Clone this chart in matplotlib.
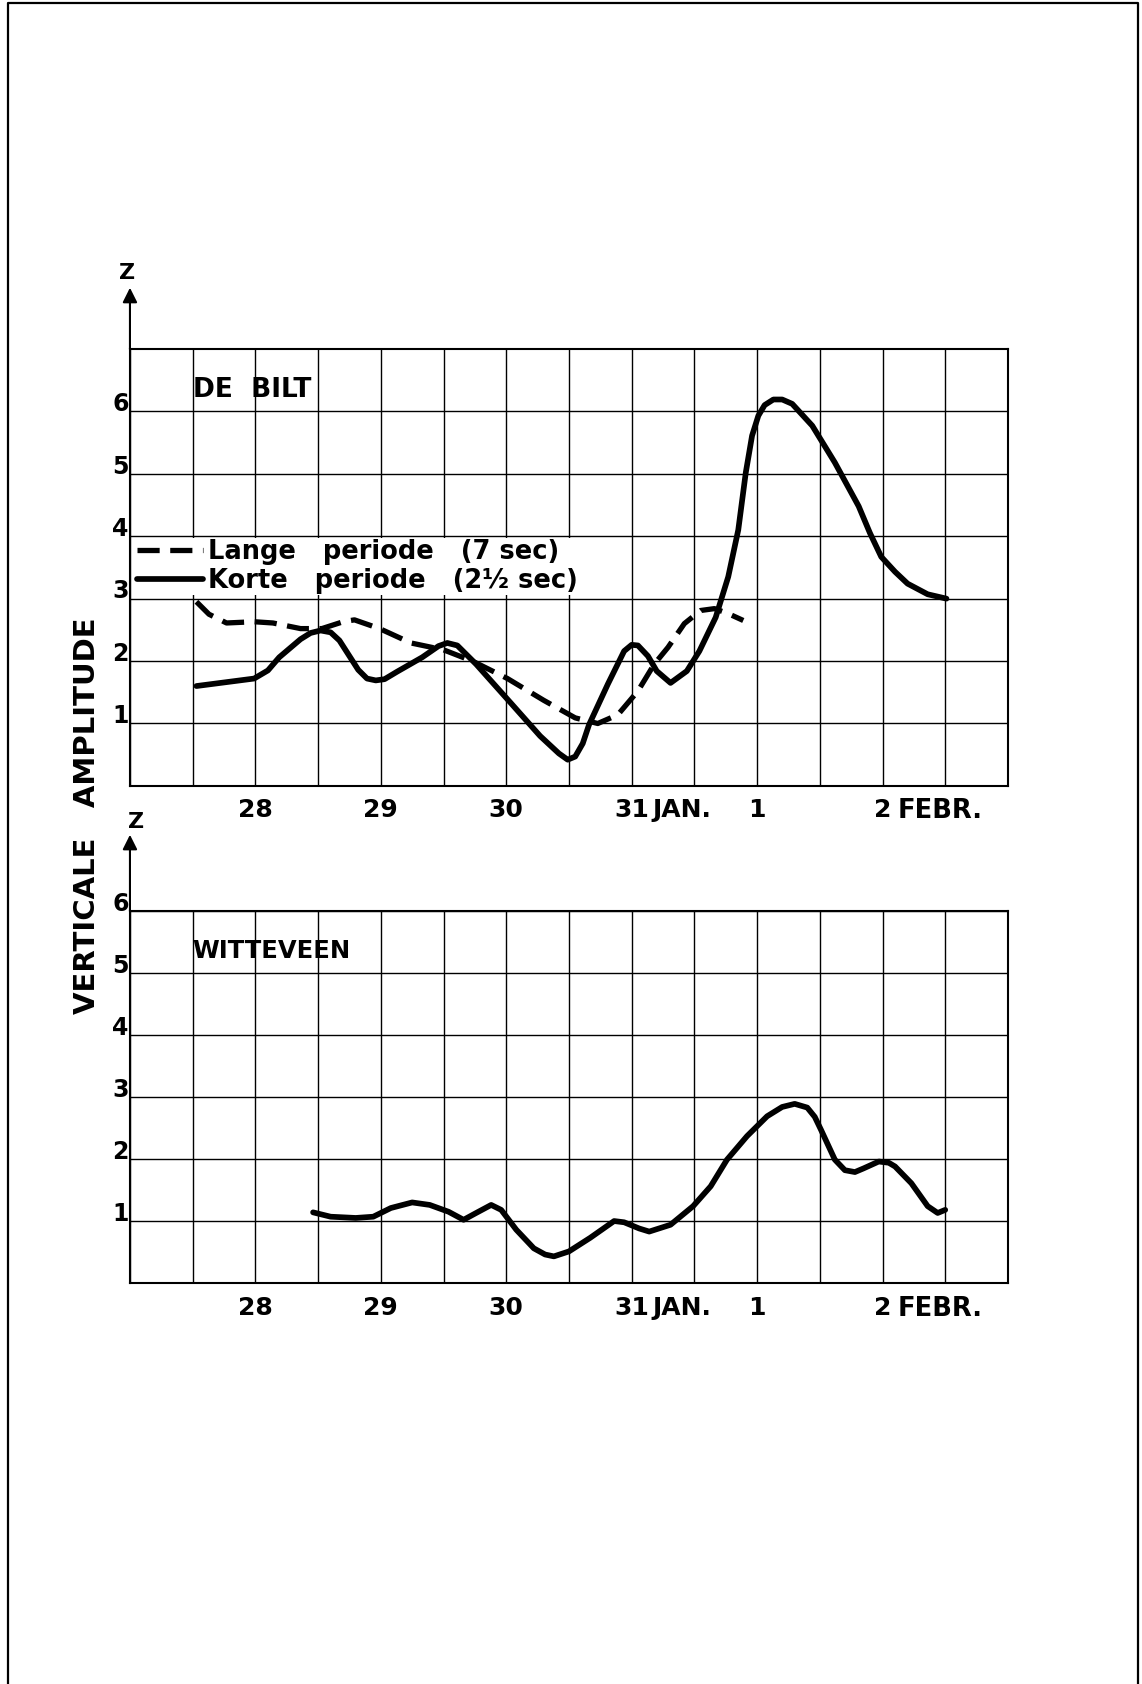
import numpy as np
import matplotlib.pyplot as plt
import matplotlib.transforms as mtransforms
from matplotlib.lines import Line2D

# day axis: 28..31 = January, 32 = 1 Feb, 33 = 2 Feb
day_ticks = [28, 29, 30, 31, 32, 33]
day_labels = ['28', '29', '30', '31', '1', '2']

# De Bilt, long period (7 sec)
lange_x = [27.53, 27.63, 27.77, 27.99, 28.14, 28.36, 28.53, 28.70, 28.79, 28.99, 29.24,
           29.50, 29.73, 30.01, 30.30, 30.55, 30.73, 30.89, 31.05, 31.18, 31.29, 31.42,
           31.55, 31.66, 31.77, 31.89]
lange_y = [2.95, 2.75, 2.61, 2.63, 2.61, 2.52, 2.52, 2.63, 2.66, 2.52, 2.29,
           2.18, 2.00, 1.72, 1.37, 1.09, 1.00, 1.14, 1.52, 1.95, 2.22, 2.60,
           2.81, 2.84, 2.76, 2.65]

# De Bilt, short period (2.5 sec)
korte_x = [27.53, 27.99, 28.10, 28.19, 28.36, 28.44, 28.52, 28.60, 28.67, 28.82, 28.89,
           28.96, 29.03, 29.13, 29.33, 29.46, 29.53, 29.61, 29.76, 30.04, 30.27, 30.42,
           30.49, 30.55, 30.61, 30.66, 30.81, 30.94, 31.00, 31.05, 31.13, 31.20, 31.31,
           31.44, 31.54, 31.67, 31.77, 31.85, 31.91, 31.96, 32.01, 32.06, 32.13, 32.20,
           32.28, 32.44, 32.62, 32.81, 32.90, 32.99, 33.10, 33.20, 33.36, 33.51]
korte_y = [1.60, 1.72, 1.85, 2.06, 2.35, 2.45, 2.49, 2.46, 2.33, 1.86, 1.72,
           1.69, 1.71, 1.83, 2.06, 2.24, 2.29, 2.25, 1.95, 1.32, 0.80, 0.52,
           0.42, 0.47, 0.68, 0.98, 1.63, 2.16, 2.26, 2.25, 2.08, 1.84, 1.65,
           1.84, 2.16, 2.70, 3.35, 4.10, 5.02, 5.61, 5.93, 6.10, 6.19, 6.19,
           6.12, 5.77, 5.18, 4.48, 4.05, 3.67, 3.43, 3.24, 3.07, 3.00]

# Witteveen
witt_x = [28.46, 28.60, 28.80, 28.94, 29.08, 29.25, 29.39, 29.54, 29.66, 29.76, 29.88,
          29.96, 30.08, 30.22, 30.31, 30.38, 30.50, 30.67, 30.86, 30.94, 31.06, 31.14,
          31.31, 31.49, 31.63, 31.76, 31.92, 32.08, 32.20, 32.30, 32.40, 32.46, 32.51,
          32.62, 32.70, 32.78, 32.85, 32.97, 33.05, 33.10, 33.23, 33.36, 33.44, 33.50]
witt_y = [1.14, 1.07, 1.05, 1.07, 1.21, 1.30, 1.26, 1.15, 1.02, 1.13, 1.26,
          1.18, 0.86, 0.56, 0.46, 0.43, 0.51, 0.73, 1.00, 0.98, 0.88, 0.83,
          0.94, 1.24, 1.56, 1.99, 2.37, 2.69, 2.84, 2.89, 2.83, 2.68, 2.47,
          1.99, 1.82, 1.79, 1.85, 1.96, 1.94, 1.88, 1.61, 1.24, 1.13, 1.18]

plt.rcParams['font.family'] = 'DejaVu Sans'
plt.rcParams['font.weight'] = 'bold'

fig = plt.figure(figsize=(11.42, 16.84), dpi=100)
ax1 = fig.add_axes([0.1138, 0.5333, 0.7688, 0.2595])
ax2 = fig.add_axes([0.1138, 0.2381, 0.7688, 0.2209])

lw_curve = 3.8


def style_axes(ax, ymax):
    ax.set_xlim(27, 34)
    ax.set_ylim(0, ymax)
    ax.set_xticks(day_ticks)
    ax.set_xticklabels(day_labels)
    ax.set_xticks(np.arange(27, 34.01, 0.5), minor=True)
    ax.set_yticks(range(1, 7))
    ax.set_yticklabels([str(i) for i in range(1, 7)])
    ax.grid(which='both', axis='x', color='black', linewidth=1.0)
    ax.grid(which='major', axis='y', color='black', linewidth=1.0)
    ax.set_axisbelow(True)
    ax.tick_params(which='both', length=0)
    ax.tick_params(axis='x', pad=9, labelsize=18)
    ax.tick_params(axis='y', pad=1, labelsize=17)
    for s in ax.spines.values():
        s.set_linewidth(1.5)
    # y labels sit a little above their grid line
    off = mtransforms.ScaledTranslation(0, 7 / 72, fig.dpi_scale_trans)
    for t in ax.get_yticklabels():
        t.set_transform(t.get_transform() + off)
    # month names after the day numbers
    ax.annotate('JAN.', xy=(31, 0), xycoords=('data', 'axes fraction'),
                xytext=(15, -9), textcoords='offset points',
                ha='left', va='top', fontsize=18, fontweight='bold')
    ax.annotate('FEBR.', xy=(33, 0), xycoords=('data', 'axes fraction'),
                xytext=(11, -9), textcoords='offset points',
                ha='left', va='top', fontsize=18.5, fontweight='bold')


style_axes(ax1, 7)
style_axes(ax2, 6)

# vertical Z arrows
ax1.annotate('', xy=(0, 1.14), xytext=(0, 1.0), xycoords='axes fraction',
             arrowprops=dict(arrowstyle='-|>', color='black', lw=1.5,
                             mutation_scale=22, shrinkA=0, shrinkB=0),
             annotation_clip=False)
ax1.text(-0.003, 1.174, 'Z', transform=ax1.transAxes, ha='center', va='center',
         fontsize=16, fontweight='bold')
ax2.annotate('', xy=(0, 1.205), xytext=(0, 1.0), xycoords='axes fraction',
             arrowprops=dict(arrowstyle='-|>', color='black', lw=1.5,
                             mutation_scale=22, shrinkA=0, shrinkB=0),
             annotation_clip=False)
ax2.text(0.007, 1.24, 'Z', transform=ax2.transAxes, ha='center', va='center',
         fontsize=16, fontweight='bold')

# curves
ax1.plot(lange_x, lange_y, color='black', lw=lw_curve, dashes=(4.2, 2.0),
         label='Lange   periode   (7 sec)', zorder=3)
ax1.plot(korte_x, korte_y, color='black', lw=lw_curve + 0.3, solid_capstyle='round',
         solid_joinstyle='round', label='Korte   periode   (2½ sec)', zorder=3)
ax2.plot(witt_x, witt_y, color='black', lw=lw_curve + 0.3, solid_capstyle='round',
         solid_joinstyle='round', zorder=3)

leg = ax1.legend(loc='upper left', bbox_to_anchor=(0.006, 3.975 / 7), borderaxespad=0,
                 frameon=True, fancybox=False, framealpha=1, edgecolor='none',
                 facecolor='white', handlelength=2.6, handletextpad=0.2,
                 labelspacing=0.1, borderpad=0.05,
                 prop={'weight': 'bold', 'size': 18.5})
leg.set_zorder(2)

ax1.text(27.5, 6.35, 'DE  BILT', ha='left', va='center', fontsize=19, fontweight='bold')
ax2.text(27.5, 5.35, 'WITTEVEEN', ha='left', va='center', fontsize=17.5, fontweight='bold')

fig.text(0.0762, 0.5154, 'VERTICALE   AMPLITUDE', rotation=90, ha='center', va='center',
         fontsize=21, fontweight='bold')

# page frame
fig.add_artist(Line2D([0.007, 0.007, 0.9965, 0.9965], [0.0, 0.998, 0.998, 0.0],
                      transform=fig.transFigure, color='black', lw=1.6))

fig.savefig('out.png', dpi=100, facecolor='white')
